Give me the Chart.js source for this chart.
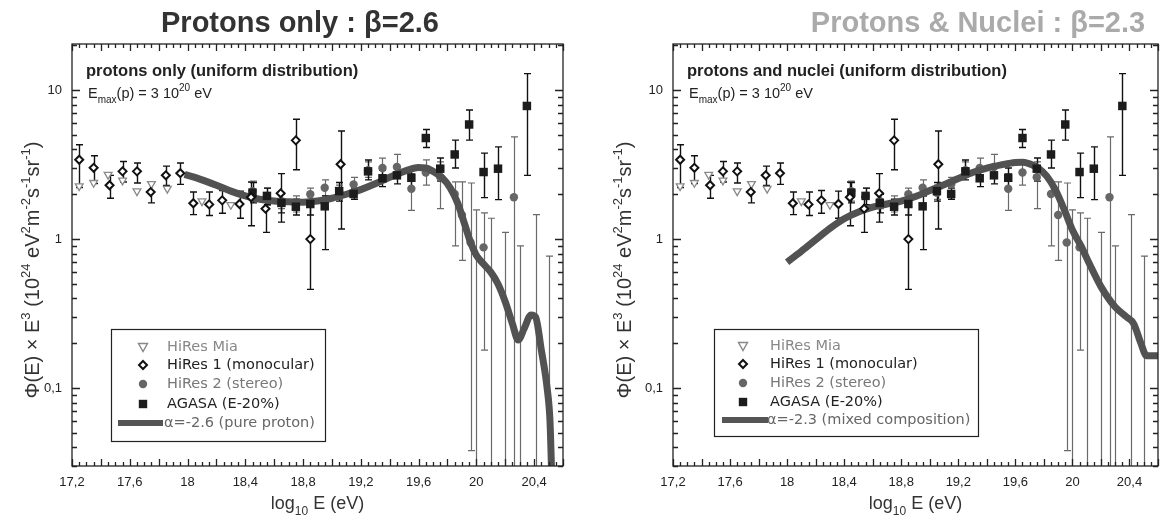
<!DOCTYPE html>
<html>
<head>
<meta charset="utf-8">
<script src="https://cdn.jsdelivr.net/npm/chart.js@4.4.1/dist/chart.umd.min.js"></script>
<style>
  html, body { margin: 0; padding: 0; background: #fff; }
  #wrap { position: relative; width: 1164px; height: 524px; overflow: hidden; }
  .panel { position: absolute; top: 0; width: 582px; height: 524px; }
  .title { position: absolute; top: 6px; font: bold 29px "Liberation Sans", Arial, sans-serif;
           white-space: nowrap; transform: translateX(-50%); }
</style>
</head>
<body>
<div id="wrap">
  <div class="panel" style="left:0"><canvas id="c1" width="582" height="524"></canvas></div>
  <div class="panel" style="left:582px"><canvas id="c2" width="582" height="524"></canvas></div>
  <div class="title" style="left:300px;color:#333">Protons only : β=2.6</div>
  <div class="title" style="left:978px;color:#aaa">Protons &amp; Nuclei : β=2.3</div>
</div>
<script>
// ================= DATA =================
// log10 E (eV) and flux x E^3 (10^24 eV^2 m^-2 s^-1 sr^-1)
const miaE    = [17.25, 17.35, 17.45, 17.55, 17.65, 17.75, 17.86, 18.10, 18.30];
const miaFlux = [2.27, 2.39, 2.71, 2.48, 2.10, 2.35, 2.18, 1.80, 1.70];

const hr1E    = [17.25, 17.35, 17.46, 17.55, 17.65, 17.745, 17.85, 17.95, 18.04, 18.15, 18.24, 18.36, 18.44, 18.54, 18.645, 18.75, 18.85, 19.06];
const hr1Flux = [3.41, 3.01, 2.30, 2.85, 2.85, 2.07, 2.68, 2.77, 1.74, 1.71, 1.82, 1.72, 1.91, 1.60, 2.03, 4.60, 1.00, 3.18];
const hr1Lo   = [2.22, 2.36, 1.88, 2.42, 2.38, 1.75, 2.29, 2.33, 1.46, 1.44, 1.49, 1.38, 1.23, 1.11, 1.30, 2.92, 0.46, 1.17];
const hr1Hi   = [4.30, 3.63, 2.68, 3.32, 3.24, 2.38, 3.09, 3.24, 2.07, 2.07, 2.12, 2.10, 2.42, 1.91, 2.75, 6.38, 2.00, 5.32];

const hr2E    = [18.45, 18.55, 18.65, 18.75, 18.85, 18.95, 19.05, 19.15, 19.25, 19.35, 19.45, 19.55, 19.65, 19.75, 19.85, 19.90, 19.96, 20.05, 20.26];
const hr2Flux = [2.10, 1.95, 1.80, 1.72, 2.00, 2.21, 2.05, 2.33, 2.90, 3.00, 3.05, 2.18, 2.80, 2.60, 2.01, 1.45, 0.95, 0.88, 1.91];
const hr2Lo   = [1.80, 1.70, 1.60, 1.52, 1.80, 1.95, 1.85, 2.10, 2.60, 2.70, 2.75, 1.56, 2.30, 1.60, 0.90, 0.72, 0.038, 0.18, 0.01];
const hr2Hi   = [2.45, 2.20, 2.00, 1.95, 2.20, 2.50, 2.30, 2.60, 3.30, 3.50, 3.70, 2.75, 3.40, 3.30, 2.42, 2.42, 2.38, 1.50, 4.85];

// HiRes 2 bins with no event: only the bar is drawn
const limE    = [20.00, 20.10, 20.20, 20.30, 20.41, 20.50];
const limHi   = [1.57, 1.38, 1.11, 0.90, 1.46, 0.77];

const agE     = [18.45, 18.55, 18.65, 18.75, 18.85, 18.95, 19.05, 19.15, 19.25, 19.35, 19.45, 19.55, 19.65, 19.75, 19.85, 19.95, 20.05, 20.15, 20.35];
const agFlux  = [2.05, 1.95, 1.75, 1.65, 1.72, 1.66, 2.10, 2.01, 2.85, 2.56, 2.68, 2.58, 4.77, 2.97, 3.70, 5.88, 2.82, 2.97, 7.83];
const agLo    = [1.75, 1.70, 1.50, 1.45, 1.45, 0.85, 1.80, 1.85, 2.50, 2.25, 2.35, 2.20, 4.12, 2.45, 3.00, 4.62, 1.90, 1.84, 2.68];
const agHi    = [2.40, 2.20, 2.00, 1.85, 2.00, 1.95, 2.40, 2.20, 3.40, 2.90, 3.05, 3.00, 5.44, 3.50, 4.62, 7.35, 3.78, 4.16, 12.9];

const protonE    = [17.98, 18.1, 18.2, 18.3, 18.4, 18.5, 18.6, 18.7, 18.8, 18.9, 19.0, 19.1, 19.2, 19.3, 19.4, 19.5, 19.6, 19.65, 19.7, 19.76, 19.82, 19.87, 19.92, 19.96, 20.0, 20.05, 20.1, 20.15, 20.2, 20.25, 20.29, 20.33, 20.38, 20.41, 20.45, 20.49, 20.51, 20.52];
const protonFlux = [2.72, 2.5, 2.3, 2.1, 1.95, 1.85, 1.8, 1.78, 1.77, 1.8, 1.88, 2.0, 2.15, 2.35, 2.6, 2.85, 3.02, 3.0, 2.85, 2.6, 2.2, 1.75, 1.25, 0.95, 0.78, 0.68, 0.6, 0.5, 0.38, 0.27, 0.21, 0.25, 0.31, 0.30, 0.18, 0.10, 0.06, 0.03];

const mixedE    = [18.0, 18.1, 18.2, 18.3, 18.4, 18.5, 18.6, 18.7, 18.8, 18.9, 19.0, 19.1, 19.2, 19.3, 19.4, 19.5, 19.6, 19.65, 19.7, 19.76, 19.82, 19.88, 19.94, 20.0, 20.06, 20.12, 20.2, 20.3, 20.38, 20.43, 20.48, 20.52, 20.62];
const mixedFlux = [0.70, 0.83, 0.99, 1.18, 1.37, 1.52, 1.64, 1.72, 1.80, 1.93, 2.12, 2.32, 2.55, 2.8, 3.0, 3.15, 3.27, 3.28, 3.2, 3.0, 2.65, 2.15, 1.6, 1.15, 0.9, 0.68, 0.48, 0.35, 0.30, 0.27, 0.2, 0.165, 0.165];

const xTickLabels = [17.2, 17.6, 18.0, 18.4, 18.8, 19.2, 19.6, 20.0, 20.4];
const yTickLabels = [0.1, 1, 10];
const legendLabels = ["HiRes Mia", "HiRes 1 (monocular)", "HiRes 2 (stereo)", "AGASA (E-20%)"];

// ================= HELPERS =================
const FONT = '"Liberation Sans", Arial, sans-serif';
const LEGEND_FONT = '"DejaVu Sans", sans-serif';
const pts = (xs, ys) => xs.map((v, i) => ({ x: v, y: ys[i] }));
const fmt = v => String(Math.round(v * 10) / 10).replace(".", ",");

// parts: [text, shift] shift 0 normal, 1 superscript, -1 subscript
function drawRich(ctx, parts, x, y, size, family, align, weight) {
  const small = Math.round(size * 0.66);
  const w = weight || "";
  let total = 0;
  const widths = parts.map(([t, s]) => {
    ctx.font = `${w} ${s ? small : size}px ${family}`;
    const m = ctx.measureText(t).width;
    total += m;
    return m;
  });
  let cx = align === "center" ? x - total / 2 : x;
  ctx.textAlign = "left";
  ctx.textBaseline = "alphabetic";
  parts.forEach(([t, s], i) => {
    ctx.font = `${w} ${s ? small : size}px ${family}`;
    const dy = s === 1 ? -size * 0.45 : s === -1 ? size * 0.32 : 0;
    ctx.fillText(t, cx, y + dy);
    cx += widths[i];
  });
}

function drawSymbol(ctx, kind, x, y) {
  ctx.save();
  ctx.beginPath();
  if (kind === 0) {
    ctx.moveTo(x - 4.5, y - 3.5); ctx.lineTo(x + 4.5, y - 3.5); ctx.lineTo(x, y + 4.5); ctx.closePath();
    ctx.fillStyle = "#fff"; ctx.fill(); ctx.strokeStyle = "#888"; ctx.lineWidth = 1.4; ctx.stroke();
  } else if (kind === 1) {
    ctx.moveTo(x, y - 4); ctx.lineTo(x + 4, y); ctx.lineTo(x, y + 4); ctx.lineTo(x - 4, y); ctx.closePath();
    ctx.fillStyle = "#fff"; ctx.fill(); ctx.strokeStyle = "#111"; ctx.lineWidth = 2; ctx.stroke();
  } else if (kind === 2) {
    ctx.arc(x, y, 4.2, 0, Math.PI * 2); ctx.fillStyle = "#666"; ctx.fill();
  } else {
    ctx.rect(x - 4.2, y - 4.2, 8.4, 8.4); ctx.fillStyle = "#1c1c1c"; ctx.fill();
  }
  ctx.restore();
}

// vertical error bars, drawn under the markers
const errorBars = {
  id: "errorBars",
  beforeDatasetsDraw(chart) {
    const { ctx, chartArea: a, scales: { x, y } } = chart;
    ctx.save();
    ctx.beginPath();
    ctx.rect(a.left, a.top, a.right - a.left, a.bottom - a.top);
    ctx.clip();
    chart.data.datasets.forEach(ds => {
      if (!ds.errLo) return;
      ctx.strokeStyle = ds.errColor;
      ctx.lineWidth = ds.errWidth;
      ctx.beginPath();
      ds.data.forEach((p, i) => {
        const px = Math.round(x.getPixelForValue(p.x)) + 0.5;
        const y0 = y.getPixelForValue(ds.errLo[i]);
        const y1 = y.getPixelForValue(ds.errHi[i]);
        ctx.moveTo(px, y0); ctx.lineTo(px, y1);
        ctx.moveTo(px - 3.5, y1); ctx.lineTo(px + 3.5, y1);
        if (ds.errLo[i] > y.min) { ctx.moveTo(px - 3.5, y0); ctx.lineTo(px + 3.5, y0); }
      });
      ctx.stroke();
    });
    ctx.restore();
  }
};

// frame, inward ticks, notes, legend, axis titles
const deco = {
  id: "deco",
  afterDraw(chart, args, o) {
    const { ctx, chartArea: a, scales: { x, y } } = chart;
    ctx.save();
    ctx.strokeStyle = "#222";
    ctx.lineWidth = 1.3;
    ctx.strokeRect(a.left, a.top, a.right - a.left, a.bottom - a.top);
    ctx.beginPath();
    for (let i = Math.ceil(x.min / 0.05 - 1e-6); i * 0.05 <= x.max + 1e-6; i++) {
      const px = Math.round(x.getPixelForValue(i * 0.05)) + 0.5;
      const len = i % 4 === 0 ? 7 : 4;
      ctx.moveTo(px, a.bottom); ctx.lineTo(px, a.bottom - len);
      ctx.moveTo(px, a.top); ctx.lineTo(px, a.top + len);
    }
    for (let d = -2; d <= 1; d++) {
      for (let k = 1; k <= 9; k++) {
        const v = k * Math.pow(10, d);
        if (v < y.min || v > y.max) continue;
        const py = Math.round(y.getPixelForValue(v)) + 0.5;
        const len = k === 1 ? 8 : 5;
        ctx.moveTo(a.left, py); ctx.lineTo(a.left + len, py);
        ctx.moveTo(a.right, py); ctx.lineTo(a.right - len, py);
      }
    }
    ctx.stroke();

    // notes in the upper left corner
    ctx.fillStyle = "#222";
    ctx.font = `bold 16.5px ${FONT}`;
    ctx.textAlign = "left";
    ctx.textBaseline = "alphabetic";
    ctx.fillText(o.note, a.left + 14, 76);
    drawRich(ctx, [["E", 0], ["max", -1], ["(p) = 3 10", 0], ["20", 1], [" eV", 0]],
      a.left + 16, 98, 14.5, FONT, "left");

    // legend box
    const L = o.legend;
    ctx.strokeStyle = "#222";
    ctx.lineWidth = 1.2;
    ctx.strokeRect(L.x + 0.5, L.y + 0.5, L.w, L.h);
    const colors = ["#888", "#222", "#777", "#222"];
    ctx.font = `14.5px ${LEGEND_FONT}`;
    ctx.textBaseline = "middle";
    legendLabels.forEach((t, i) => {
      drawSymbol(ctx, i, L.symX, L.rows[i]);
      ctx.fillStyle = colors[i];
      ctx.fillText(t, L.textX, L.rows[i]);
    });
    ctx.strokeStyle = "#555";
    ctx.lineWidth = 6;
    ctx.beginPath();
    ctx.moveTo(L.lineX0, L.rows[4]); ctx.lineTo(L.lineX1, L.rows[4]);
    ctx.stroke();
    ctx.fillStyle = "#666";
    ctx.fillText(o.curveLabel, L.textX - 3, L.rows[4]);

    // axis titles
    ctx.fillStyle = "#333";
    drawRich(ctx, [["log", 0], ["10", -1], [" E (eV)", 0]], (a.left + a.right) / 2, 509, 18, FONT, "center");
    ctx.translate(o.yTitleX, 270);
    ctx.rotate(-Math.PI / 2);
    drawRich(ctx, [["Φ(E) × E", 0], ["3", 1], [" (10", 0], ["24", 1], [" eV", 0], ["2", 1], ["m", 0], ["-2", 1],
      ["s", 0], ["-1", 1], ["sr", 0], ["-1", 1], [")", 0]], 0, 7, 20, FONT, "center");
    ctx.restore();
  }
};

// ================= CHARTS =================
const panels = [
  { id: "c1", curveE: protonE, curveFlux: protonFlux, curveLabel: "α=-2.6 (pure proton)",
    note: "protons only (uniform distribution)", yWidth: 72, padRight: 19, yTitleX: 32,
    legend: { x: 111, y: 329, w: 214, h: 112, rows: [347, 365, 384, 404, 423], symX: 143, textX: 167, lineX0: 118, lineX1: 163 } },
  { id: "c2", curveE: mixedE, curveFlux: mixedFlux, curveLabel: "α=-2.3 (mixed composition)",
    note: "protons and nuclei (uniform distribution)", yWidth: 91, padRight: 1, yTitleX: 42,
    legend: { x: 132, y: 329, w: 264, h: 107, rows: [346, 364, 383, 402, 420], symX: 161, textX: 188, lineX0: 140, lineX1: 186 } }
];

panels.forEach(p => {
  const ctx = document.getElementById(p.id).getContext("2d");
  new Chart(ctx, {
    type: "scatter",
    data: {
      datasets: [
        { label: "HiRes Mia", data: pts(miaE, miaFlux), pointStyle: "triangle", rotation: 180,
          pointRadius: 4.5, backgroundColor: "#fff", borderColor: "#8a8a8a", borderWidth: 1.3, order: 1 },
        { label: "HiRes 1", data: pts(hr1E, hr1Flux), pointStyle: "rectRot", pointRadius: 4,
          backgroundColor: "#fff", borderColor: "#111", borderWidth: 2, order: 0,
          errLo: hr1Lo, errHi: hr1Hi, errColor: "#111", errWidth: 1.4 },
        { label: "HiRes 2", data: pts(hr2E, hr2Flux), pointStyle: "circle", pointRadius: 4.2,
          backgroundColor: "#666", borderColor: "#666", borderWidth: 0, order: 3,
          errLo: hr2Lo, errHi: hr2Hi, errColor: "#6a6a6a", errWidth: 1.2 },
        { label: "HiRes 2 empty bins", data: pts(limE, limHi), pointRadius: 0, order: 4,
          errLo: limE.map(() => 0.01), errHi: limHi, errColor: "#6a6a6a", errWidth: 1.2 },
        { label: "AGASA", data: pts(agE, agFlux), pointStyle: "rect", pointRadius: 6,
          backgroundColor: "#1c1c1c", borderColor: "#1c1c1c", borderWidth: 0, order: 0,
          errLo: agLo, errHi: agHi, errColor: "#111", errWidth: 1.4 },
        { label: p.curveLabel, data: pts(p.curveE, p.curveFlux), showLine: true, pointRadius: 0,
          borderColor: "#525252", borderWidth: 7, cubicInterpolationMode: "monotone",
          borderJoinStyle: "round", order: 2 }
      ]
    },
    options: {
      responsive: false,
      animation: false,
      devicePixelRatio: 1,
      layout: { padding: { top: 44, right: p.padRight, bottom: 0, left: 0 } },
      plugins: { legend: { display: false }, tooltip: { enabled: false }, deco: p },
      scales: {
        x: {
          type: "linear", min: 17.2, max: 20.6,
          grid: { display: false, drawTicks: false }, border: { display: false },
          afterBuildTicks: s => { s.ticks = xTickLabels.map(v => ({ value: v })); },
          afterFit: s => { s.height = 58; },
          ticks: { autoSkip: false, maxRotation: 0, padding: 9, color: "#222",
                   font: { family: FONT, size: 13 }, callback: v => fmt(v) }
        },
        y: {
          type: "logarithmic", min: 0.03, max: 20.4,
          grid: { display: false, drawTicks: false }, border: { display: false },
          afterBuildTicks: s => { s.ticks = yTickLabels.map(v => ({ value: v })); },
          afterFit: s => { s.width = p.yWidth; },
          ticks: { autoSkip: false, padding: 10, color: "#222",
                   font: { family: FONT, size: 13 }, callback: v => fmt(v) }
        }
      }
    },
    plugins: [errorBars, deco]
  });
});
</script>
</body>
</html>
